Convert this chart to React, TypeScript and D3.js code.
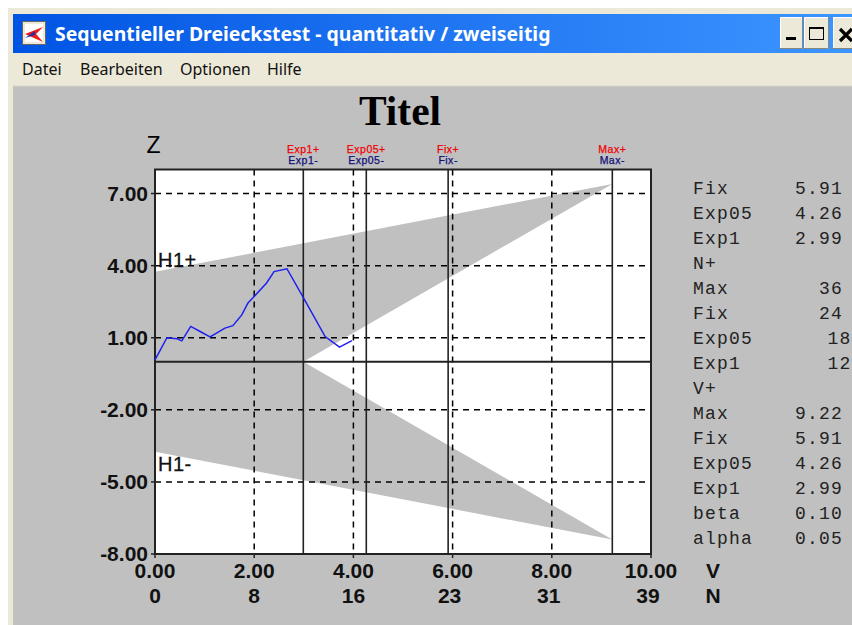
import React from 'react';
import * as d3 from 'd3';

// Werte
const xTicks = [0, 2, 4, 6, 8, 10];
const nLabels = ['0', '8', '16', '23', '31', '39'];
const yTicks = [7, 4, 1, -2, -5, -8];

const pathV = [0, 0.24, 0.44, 0.54, 0.72, 0.91, 1.11, 1.41, 1.57, 1.75, 1.875, 1.98, 2.25, 2.4, 2.66, 2.98, 3.43, 3.72, 3.97];
const pathZ = [0.08, 1.0, 0.96, 0.87, 1.47, 1.26, 1.03, 1.4, 1.5, 1.95, 2.45, 2.67, 3.28, 3.75, 3.87, 2.71, 1.05, 0.61, 0.88];

const markerNames = ['Exp1', 'Exp05', 'Fix', 'Max'];
const markerValues = [2.99, 4.26, 5.91, 9.22];

// Grenzen der grauen Flaeche: [V, Z]
const upperBand: [number, number][] = [[0, 3.74], [9.22, 7.4], [2.99, 0], [0, 0]];
const lowerBand: [number, number][] = [[0, -3.74], [9.22, -7.4], [2.99, 0], [0, 0]];

const sideLabels = ['Fix', 'Exp05', 'Exp1', 'N+', 'Max', 'Fix', 'Exp05', 'Exp1', 'V+', 'Max', 'Fix', 'Exp05', 'Exp1', 'beta', 'alpha'];
const sideValues = ['5.91', '4.26', '2.99', '', '36', '24', '18', '12', '', '9.22', '5.91', '4.26', '2.99', '0.10', '0.05'];

const menuItems = ['Datei', 'Bearbeiten', 'Optionen', 'Hilfe'];
const menuStarts = [22, 80, 180, 267];

const W = 852;
const H = 625;
const x = d3.scaleLinear().domain([0, 10]).range([155, 651]);
const y = d3.scaleLinear().domain([-8, 8]).range([554, 169.5]);

const boldFont = '"Liberation Sans", sans-serif';
const monoFont = '"Liberation Mono", monospace';

export default function App() {
  const line = d3.line<number>().x((d) => x(d)).y((_, i) => y(pathZ[i]));
  const area = d3.line<[number, number]>().x((d) => x(d[0])).y((d) => y(d[1]));

  return (
    <svg
      width={W}
      height={H}
      viewBox={`0 0 ${W} ${H}`}
      style={{ position: 'absolute', left: 0, top: 0, background: '#fff' }}
    >
      <defs>
        <linearGradient id="titlebar" x1="0" x2="1" y1="0" y2="0">
          <stop offset="0" stopColor="#0054e3" />
          <stop offset="1" stopColor="#3d95ff" />
        </linearGradient>
      </defs>

      {/* Fensterrahmen */}
      <rect x={8} y={8} width={W - 8} height={H - 8} fill="#ece9d8" />
      <rect x={13} y={14} width={W - 13} height={39} fill="url(#titlebar)" />
      <rect x={13} y={86} width={W - 13} height={H - 86} fill="#c0c0c0" />
      <line x1={13} x2={W} y1={86} y2={86} stroke="#d8d5c6" />

      <rect x={22.5} y={21.5} width={23} height={23} fill="#ece9d8" stroke="#666" />
      <rect x={25} y={24} width={18} height={18} fill="#fdfdfd" />
      <path d="M25,34 L43,27 L36,34 L43,42 Z" fill="#f01818" />
      <path d="M25,38 L35,31 L35,35 Z" fill="#2030a0" />
      <text x={55} y={41} fill="#fff" fontFamily='"Noto Sans", sans-serif' fontWeight={700} fontSize={19.4}>
        Sequentieller Dreieckstest - quantitativ / zweiseitig
      </text>

      {/* Fensterknoepfe */}
      {[[780, 23], [804, 25], [833, 24]].map(([bx, bw]) => (
        <g key={bx}>
          <rect x={bx} y={17} width={bw} height={32} fill="#ece9d8" />
          <path d={`M${bx + 0.5},49 V17.5 H${bx + bw}`} fill="none" stroke="#fff" />
          <path d={`M${bx + bw - 0.5},17 V48.5 H${bx}`} fill="none" stroke="#8a8778" />
        </g>
      ))}
      <rect x={786} y={37} width={10} height={3} fill="#000" />
      <rect x={809.5} y={27.5} width={14} height={12} fill="none" stroke="#000" />
      <rect x={809} y={27} width={15} height={2} fill="#000" />
      <path d="M840,29 L852,41 M852,29 L840,41" stroke="#000" strokeWidth={3.2} fill="none" />

      {/* Menue */}
      {menuItems.map((label, i) => (
        <text key={label} x={menuStarts[i]} y={75} fontFamily='"Noto Sans", sans-serif' fontSize={16} fill="#111">
          {label}
        </text>
      ))}

      <text x={400} y={125} textAnchor="middle" fontFamily='"Liberation Serif", serif' fontWeight={700} fontSize={41.5}>
        Titel
      </text>
      <text x={153.5} y={153} textAnchor="middle" fontFamily={boldFont} fontSize={23}>
        Z
      </text>

      {/* Plotflaeche */}
      <rect x={x(0)} y={y(8)} width={x(10) - x(0)} height={y(-8) - y(8)} fill="#fff" />
      <path d={`${area(upperBand)}Z`} fill="#c0c0c0" />
      <path d={`${area(lowerBand)}Z`} fill="#c0c0c0" />

      {xTicks.slice(1, -1).map((t) => (
        <line key={t} x1={x(t)} x2={x(t)} y1={y(8)} y2={y(-8)} stroke="#000" strokeWidth={1.5} strokeDasharray="6 5" />
      ))}
      {yTicks.slice(0, -1).map((t) => (
        <line key={t} x1={x(0)} x2={x(10)} y1={y(t)} y2={y(t)} stroke="#000" strokeWidth={1.5} strokeDasharray="6 5" />
      ))}
      {markerValues.map((v) => (
        <line key={v} x1={x(v)} x2={x(v)} y1={y(8)} y2={y(-8)} stroke="#222" strokeWidth={1.6} />
      ))}
      <line x1={x(0)} x2={x(10)} y1={y(0)} y2={y(0)} stroke="#222" strokeWidth={2} />
      <rect x={x(0)} y={y(8)} width={x(10) - x(0)} height={y(-8) - y(8)} fill="none" stroke="#222" strokeWidth={2} />

      <path d={line(pathV) ?? ''} fill="none" stroke="#1f1ff0" strokeWidth={1.5} />

      <g fontFamily={boldFont} fontSize={20} fill="#111" stroke="#111" strokeWidth={0.3}>
        <text x={158} y={267} letterSpacing={0.5}>H1+</text>
        <text x={158} y={471} letterSpacing={0.5}>H1-</text>
      </g>

      {/* Achsen */}
      {yTicks.map((t) => (
        <g key={t}>
          <line x1={x(0) - 4} x2={x(0)} y1={y(t)} y2={y(t)} stroke="#222" strokeWidth={1.5} />
          <text x={148} y={y(t) + 7} textAnchor="end" fontFamily={boldFont} fontWeight={700} fontSize={21} fill="#111">
            {t.toFixed(2)}
          </text>
        </g>
      ))}
      {xTicks.map((t, i) => (
        <g key={t}>
          <line x1={x(t)} x2={x(t)} y1={y(-8)} y2={y(-8) + 4} stroke="#222" strokeWidth={1.5} />
          <text x={x(t)} y={578} textAnchor="middle" fontFamily={boldFont} fontWeight={700} fontSize={21} fill="#111">
            {t.toFixed(2)}
          </text>
          <text x={x(t) - (i > 2 ? 3 : 0)} y={603} textAnchor="middle" fontFamily={boldFont} fontWeight={700} fontSize={21} fill="#111">
            {nLabels[i]}
          </text>
        </g>
      ))}
      <text x={713} y={578} textAnchor="middle" fontFamily={boldFont} fontWeight={700} fontSize={21} fill="#111">V</text>
      <text x={713} y={603} textAnchor="middle" fontFamily={boldFont} fontWeight={700} fontSize={21} fill="#111">N</text>

      {/* Markierungen oben */}
      {markerNames.map((name, i) => (
        <g key={name} fontFamily={boldFont} fontSize={10.5} letterSpacing={0.5} textAnchor="middle" strokeWidth={0.25}>
          <text x={x(markerValues[i])} y={152.5} fill="#f00000" stroke="#f00000">{name}+</text>
          <text x={x(markerValues[i])} y={164} fill="#10107a" stroke="#10107a">{name}-</text>
        </g>
      ))}

      {/* Liste rechts */}
      {sideLabels.map((label, i) => (
        <g key={`${label}${i}`} fontFamily={monoFont} fontSize={18} fill="#222" letterSpacing={1.2}>
          <text x={693} y={194 + i * 25}>{label}</text>
          <text x={i === 6 || i === 7 ? 851.5 : 843} y={194 + i * 25} textAnchor="end">{sideValues[i]}</text>
        </g>
      ))}
    </svg>
  );
}
